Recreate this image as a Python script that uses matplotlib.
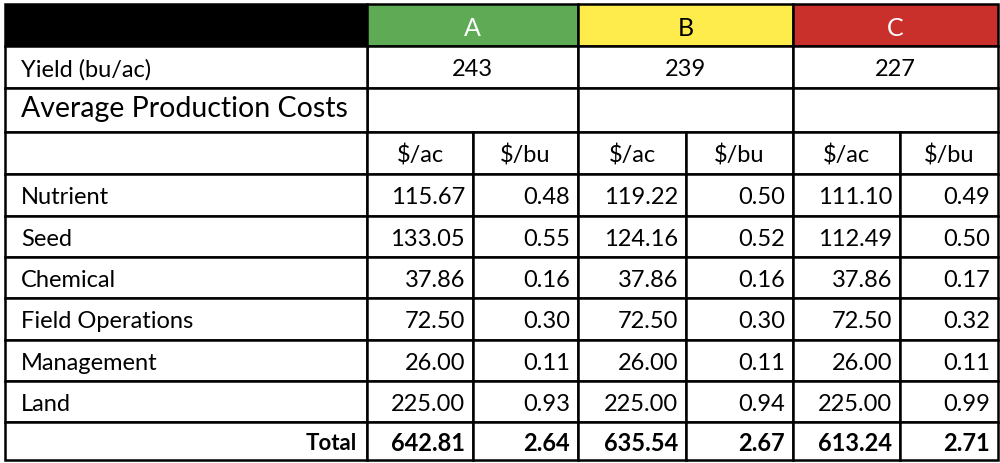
import matplotlib
matplotlib.use("Agg")
import matplotlib.pyplot as plt
from matplotlib.patches import Rectangle

groups = ["A", "B", "C"]
group_colors = ["#5fab55", "#fdec4c", "#c9302c"]
group_text = ["white", "black", "white"]
yields = ["243", "239", "227"]
categories = ["Nutrient", "Seed", "Chemical", "Field Operations", "Management", "Land"]
per_ac = [[115.67, 133.05, 37.86, 72.50, 26.00, 225.00],
          [119.22, 124.16, 37.86, 72.50, 26.00, 225.00],
          [111.10, 112.49, 37.86, 72.50, 26.00, 225.00]]
per_bu = [[0.48, 0.55, 0.16, 0.30, 0.11, 0.93],
          [0.50, 0.52, 0.16, 0.30, 0.11, 0.94],
          [0.49, 0.50, 0.17, 0.32, 0.11, 0.99]]
totals_ac = [642.81, 635.54, 613.24]
totals_bu = [2.64, 2.67, 2.71]

xs = [5, 367, 473, 578, 686, 793, 900, 998]
ys = [5, 47, 89, 133, 175, 217, 258, 299, 341, 382, 423, 461]

fig = plt.figure(figsize=(10, 4.64), dpi=100)
ax = fig.add_axes([0, 0, 1, 1])
ax.set_xlim(0, 1000); ax.set_ylim(464, 0); ax.axis("off")
FONT = "Lato"
fs = 17

def rect(x0, y0, x1, y1, fc="white"):
    ax.add_patch(Rectangle((x0, y0), x1 - x0, y1 - y0, facecolor=fc, edgecolor="black", lw=1.8))

def txt(x, y, s, ha="center", **kw):
    ax.text(x, y + 2, s, ha=ha, va="center", fontsize=kw.pop("size", fs), family=FONT, **kw)

# header
rect(xs[0], ys[0], xs[1], ys[1], "black")
for g in range(3):
    x0, x1 = xs[1 + 2 * g], xs[3 + 2 * g]
    rect(x0, ys[0], x1, ys[1], group_colors[g])
    txt((x0 + x1) / 2, (ys[0] + ys[1]) / 2, groups[g], color=group_text[g], size=18)
    rect(x0, ys[1], x1, ys[2])
    txt((x0 + x1) / 2, (ys[1] + ys[2]) / 2, yields[g])
    rect(x0, ys[2], x1, ys[3])
rect(xs[0], ys[1], xs[1], ys[2]); txt(xs[0] + 16, (ys[1] + ys[2]) / 2, "Yield (bu/ac)", ha="left")
rect(xs[0], ys[2], xs[1], ys[3]); txt(xs[0] + 16, (ys[2] + ys[3]) / 2 - 4, "Average Production Costs", ha="left", size=20.5)
rect(xs[0], ys[3], xs[1], ys[4])
for c in range(6):
    rect(xs[1 + c], ys[3], xs[2 + c], ys[4])
    txt((xs[1 + c] + xs[2 + c]) / 2, (ys[3] + ys[4]) / 2, "$/ac" if c % 2 == 0 else "$/bu")

for r, cat in enumerate(categories):
    y0, y1 = ys[4 + r], ys[5 + r]
    rect(xs[0], y0, xs[1], y1); txt(xs[0] + 16, (y0 + y1) / 2, cat, ha="left")
    for g in range(3):
        for k, arr in enumerate([per_ac, per_bu]):
            c = 2 * g + k
            rect(xs[1 + c], y0, xs[2 + c], y1)
            txt(xs[2 + c] - 8, (y0 + y1) / 2, f"{arr[g][r]:.2f}", ha="right")

y0, y1 = ys[10], ys[11]
rect(xs[0], y0, xs[1], y1); txt(xs[1] - 10, (y0 + y1) / 2, "Total", ha="right", weight="bold", size=16)
for g in range(3):
    for k, arr in enumerate([totals_ac, totals_bu]):
        c = 2 * g + k
        rect(xs[1 + c], y0, xs[2 + c], y1)
        txt(xs[2 + c] - 8, (y0 + y1) / 2, f"{arr[g]:.2f}", ha="right", weight="bold")

fig.savefig("out.png", dpi=100, facecolor="white")
